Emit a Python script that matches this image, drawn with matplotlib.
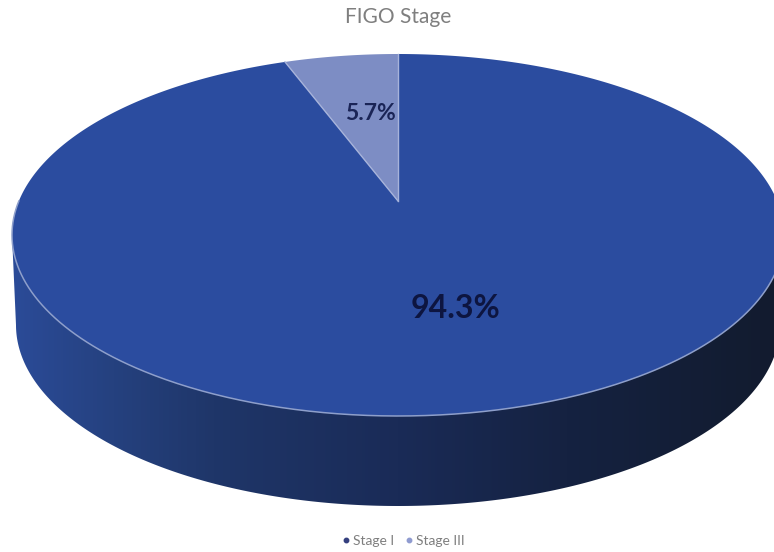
import numpy as np
import matplotlib
matplotlib.use("Agg")
import matplotlib.pyplot as plt
from matplotlib.colors import LinearSegmentedColormap
from matplotlib.lines import Line2D
from matplotlib.patches import Polygon

title = "FIGO Stage"
categories = ["Stage I", "Stage III"]
values = [94.3, 5.7]
labels = ["94.3%", "5.7%"]

plt.rcParams["font.family"] = ["Lato", "DejaVu Sans"]
W, H = 774, 552
fig = plt.figure(figsize=(W / 100, H / 100), dpi=100)
ax = fig.add_axes([0, 0, 1, 1])
ax.set_xlim(0, W)
ax.set_ylim(H, 0)
ax.axis("off")

CX, CY, A, B = 398, 235, 386, 181
DEPTH_Y, DEPTH_A = 90, 382
K = 34 / 181


def rim(theta):
    """Pie angle (clockwise from top, radians) to a point on the tilted top ellipse."""
    u, v = np.sin(theta), np.cos(theta)
    d = 1 + K * v
    return CX + A * u * np.sqrt(1 - K ** 2) / d, CY - B * (v + K) / d


apex = (CX, CY - B * K)
fractions = np.array(values) / sum(values)
edges = np.concatenate([[0], np.cumsum(fractions)]) * 2 * np.pi
top_colors = ["#2b4c9f", "#7d8dc4"]

# side wall
t = np.linspace(0, np.pi, 300)
low_x = CX - DEPTH_A * np.cos(t)
low_y = CY + DEPTH_Y + B * np.sin(t)
wall = np.column_stack([np.r_[CX - A, low_x, CX + A], np.r_[CY, low_y, CY]])
cmap = LinearSegmentedColormap.from_list("wall", [
    (0.0, "#2b4b98"), (0.13, "#25417f"), (0.26, "#1f3669"),
    (0.5, "#1a2b57"), (0.72, "#152241"), (1.0, "#121b2e")])
im = ax.imshow(np.linspace(0, 1, 512)[None, :], cmap=cmap, aspect="auto",
               extent=[12, 784, H, 0], zorder=1)
ax.set_xlim(0, W)
ax.set_ylim(H, 0)
im.set_clip_path(Polygon(wall, closed=True, transform=ax.transData))

# top slices
for start, end, color in zip(edges[:-1], edges[1:], top_colors):
    th = np.linspace(start, end, 500)
    xs, ys = rim(th)
    ax.fill(np.r_[apex[0], xs], np.r_[apex[1], ys], color=color, lw=0, zorder=2)

# rim highlight on the lower half and the slice separators
th = np.linspace(np.pi / 2, 3 * np.pi / 2, 400)
xs, ys = rim(th)
ax.plot(xs, ys, color="#8e9fcb", lw=1.1, zorder=3)
for e in edges[:2]:
    xs, ys = rim(np.array([e]))
    ax.plot([apex[0], xs[0]], [apex[1], ys[0]], color="#a7b3da", lw=1.0, zorder=3)

# labels
ax.text(455, 308, labels[0], fontsize=23, fontweight="bold", color="#0d1540", ha="center", va="center", zorder=4)
ax.text(370, 114, labels[1], fontsize=16.5, fontweight="bold", color="#1a2456", ha="center", va="center", zorder=4)
ax.text(398, 17, title, fontsize=15, color="#7f7f7f", ha="center", va="center", zorder=4)

handles = [Line2D([], [], ls="", marker="o", ms=3.2, color=c) for c in ["#35407f", "#8f9bd0"]]
ax.legend(handles, categories, loc="center", bbox_to_anchor=(402 / W, 1 - 541 / H), ncol=2,
          frameon=False, fontsize=10, labelcolor="#7f7f7f", handletextpad=0.0, columnspacing=0.6,
          handlelength=1)

fig.savefig("out.png", dpi=100)
